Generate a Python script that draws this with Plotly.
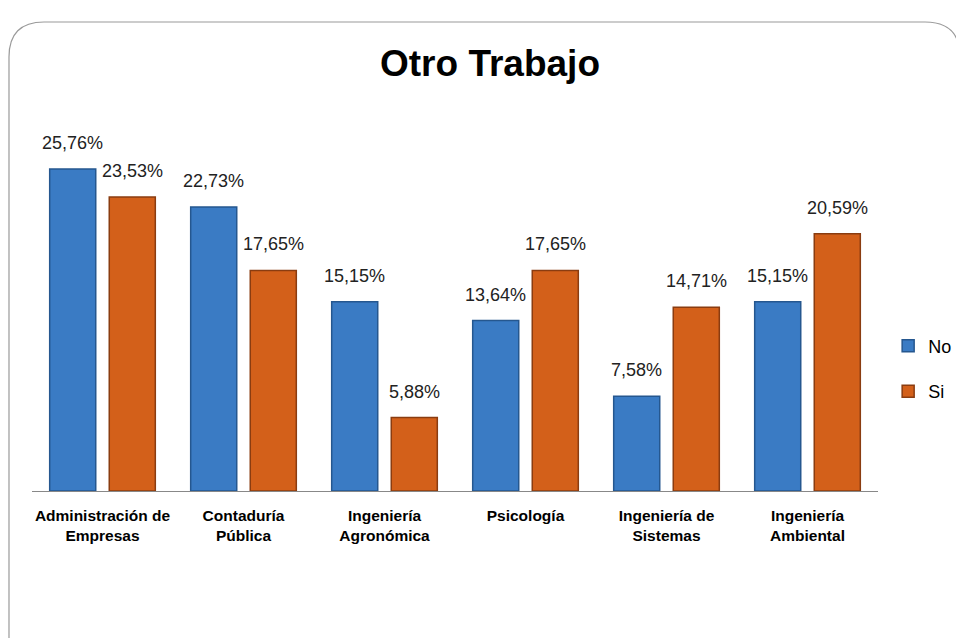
import plotly.graph_objects as go

categories = ["Administración de<br>Empresas", "Contaduría<br>Pública", "Ingeniería<br>Agronómica",
              "Psicología", "Ingeniería de<br>Sistemas", "Ingeniería<br>Ambiental"]
no_vals = [25.76, 22.73, 15.15, 13.64, 7.58, 15.15]
si_vals = [23.53, 17.65, 5.88, 17.65, 14.71, 20.59]
series_names = ["No", "Si"]

def fmt(v):
    return f"{v:.2f}".replace(".", ",") + "%"

FONT = "Liberation Sans, Arial, sans-serif"
BARGAP = 0.155
GROUPGAP = 0.227
PLOT_W = 846
slot_px = PLOT_W / len(categories) * (1 - BARGAP) / 2

fig = go.Figure()
fig.add_trace(go.Bar(
    x=categories, y=no_vals, name=series_names[0], legendgroup="a",
    marker=dict(color="#3a7bc4", line=dict(color="#25578f", width=1.5)),
))
fig.add_trace(go.Bar(
    x=categories, y=si_vals, name=series_names[1], legendgroup="b",
    marker=dict(color="#d3601a", line=dict(color="#8a3c10", width=1.5)),
))

annotations = []
for vals, shift in ((no_vals, -slot_px / 2), (si_vals, slot_px / 2)):
    for c, v in zip(categories, vals):
        annotations.append(dict(x=c, y=v, xref="x", yref="y", text=fmt(v), showarrow=False,
                                xshift=shift, yshift=14, yanchor="bottom",
                                font=dict(size=18, color="#222", family=FONT)))

L, R, T, B = -0.0272, 1.097, 1.3028, -0.45
rx, ry = 0.0414, 0.0972
border = (f"M {L},{T-ry} Q {L},{T} {L+rx},{T} L {R-rx},{T} "
          f"Q {R},{T} {R},{T-ry} L {R},{B} L {L},{B} Z")

fig.update_layout(
    width=964, height=638,
    margin=dict(l=24, r=94, t=123, b=155, autoexpand=False),
    paper_bgcolor="white", plot_bgcolor="white",
    title=dict(text="<b>Otro Trabajo</b>", x=0.5, xanchor="center", y=0.914, yanchor="middle",
               font=dict(size=37, color="black", family=FONT)),
    barmode="group", bargap=BARGAP, bargroupgap=GROUPGAP,
    xaxis=dict(showline=True, linecolor="#888", linewidth=1, ticks="", showgrid=False,
               tickfont=dict(size=15.5, color="black", family=FONT),
               tickprefix="<b>", ticksuffix="</b>", ticklabelstandoff=10),
    yaxis=dict(range=[0, 28.8], visible=False, showgrid=False),
    legend=dict(x=1.012, y=0.34, xanchor="left", yanchor="middle",
                font=dict(size=18, color="black", family=FONT),
                tracegroupgap=19, itemwidth=30),
    showlegend=True,
    annotations=annotations,
    shapes=[dict(type="path", xref="paper", yref="paper", path=border,
                 line=dict(color="#9a9a9a", width=1.2), layer="below")],
)
fig.write_html("out.html")
